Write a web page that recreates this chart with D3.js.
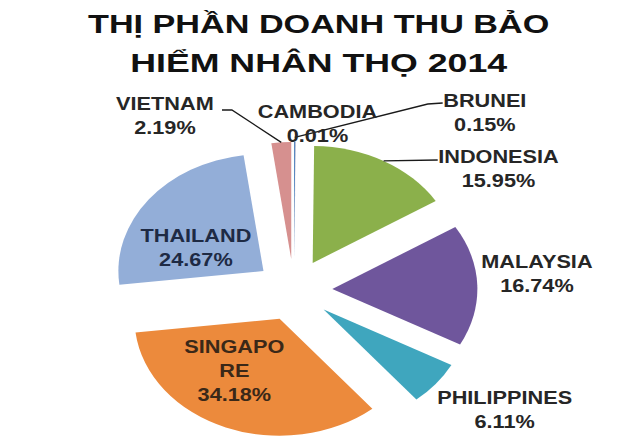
<!DOCTYPE html>
<html>
<head>
<meta charset="utf-8">
<script src="https://cdn.jsdelivr.net/npm/d3@7"></script>
<style>
  body { margin: 0; background: #fff; }
  svg { display: block; }
</style>
</head>
<body>
<svg id="chart"></svg>
<script>
// data
const titleLines = ["THỊ PHẦN DOANH THU BẢO", "HIỂM NHÂN THỌ 2014"];
const categories = ["BRUNEI", "CAMBODIA", "INDONESIA", "MALAYSIA", "PHILIPPINES", "SINGAPORE", "THAILAND", "VIETNAM"];
const shares = [0.15, 0.01, 15.95, 16.74, 6.11, 34.18, 24.67, 2.19];
const wrappedNames = { SINGAPORE: ["SINGAPO", "RE"] };

// styles
const colors = ["#4f81bd", "#c0504d", "#8bb04b", "#6f569c", "#3fa6be", "#ec8a3c", "#93aed8", "#d6908f"];

const width = 640, height = 448;
const stretch = 1.24;          // the picture is wider than it is tall
const cx = 237, cy = 290, radius = 117, explode = 31;

// label placement, relative to the pie centre (unstretched units)
const labelLayout = {
    BRUNEI:      { dx: 154, dy: -183, lead: [[120, -187], [108, -186]], leadR: 1.04 },
    CAMBODIA:    { dx: 19,  dy: -172 },
    INDONESIA:   { dx: 165, dy: -127, lead: [[116, -130]], leadR: 1 },
    MALAYSIA:    { dx: 196, dy: -22 },
    PHILIPPINES: { dx: 170, dy: 114 },
    SINGAPORE:   { dx: -48, dy: 63, fill: "#3a2818" },
    THAILAND:    { dx: -79, dy: -48, fill: "#1e2a44" },
    VIETNAM:     { dx: -104, dy: -180, lead: [[-58, -180], [-50, -180]], leadR: 1 }
};

const svg = d3.select("#chart")
    .attr("width", width)
    .attr("height", height);

const g = svg.append("g")
    .attr("transform", "scale(" + stretch + ",1)");

// title
g.selectAll(".title")
    .data(titleLines)
    .enter().append("text")
        .attr("class", "title")
        .attr("x", 257)
        .attr("y", (d, i) => 33 + i * 39)
        .attr("text-anchor", "middle")
        .attr("font-family", "Liberation Sans, Arial, sans-serif")
        .attr("font-weight", "bold")
        .attr("font-size", 26)
        .attr("textLength", (d, i) => i === 0 ? 372 : 304)
        .attr("lengthAdjust", "spacingAndGlyphs")
        .attr("fill", "#111")
        .text(d => d);

const pie = d3.pie().sort(null).value(d => d);
const arcs = pie(shares);
const arc = d3.arc().innerRadius(0).outerRadius(radius);

function mid(d) { return (d.startAngle + d.endAngle) / 2; }
function pointAt(d, rr) {
    let m = mid(d);
    return [cx + (explode + rr) * Math.sin(m), cy - (explode + rr) * Math.cos(m)];
}

// slices, each pulled out along its bisector
g.selectAll(".slice")
    .data(arcs)
    .enter().append("path")
        .attr("class", "slice")
        .attr("transform", d => "translate(" + (cx + explode * Math.sin(mid(d))) + "," + (cy - explode * Math.cos(mid(d))) + ")")
        .attr("d", arc)
        .attr("fill", (d, i) => colors[i]);

// leader lines
arcs.forEach((d, i) => {
    let lay = labelLayout[categories[i]];
    if (!lay.lead) return;
    let pts = lay.lead.map(p => [cx + p[0], cy + p[1]]);
    pts.push(pointAt(d, radius * lay.leadR));
    g.append("path")
        .attr("d", d3.line()(pts))
        .attr("fill", "none")
        .attr("stroke", "#1a1a1a")
        .attr("stroke-width", 1.3)
        .attr("vector-effect", "non-scaling-stroke");
});

// labels
arcs.forEach((d, i) => {
    let name = categories[i];
    let lay = labelLayout[name];
    let lines = (wrappedNames[name] || [name]).concat([d3.format(".2f")(shares[i]) + "%"]);
    let t = g.append("text")
        .attr("text-anchor", "middle")
        .attr("font-family", "Liberation Sans, Arial, sans-serif")
        .attr("font-weight", "bold")
        .attr("font-size", 17.5)
        .attr("fill", lay.fill || "#262626");
    lines.forEach((s, j) => {
        t.append("tspan")
            .attr("x", cx + lay.dx)
            .attr("y", cy + lay.dy + j * 24)
            .text(s);
    });
});
</script>
</body>
</html>
